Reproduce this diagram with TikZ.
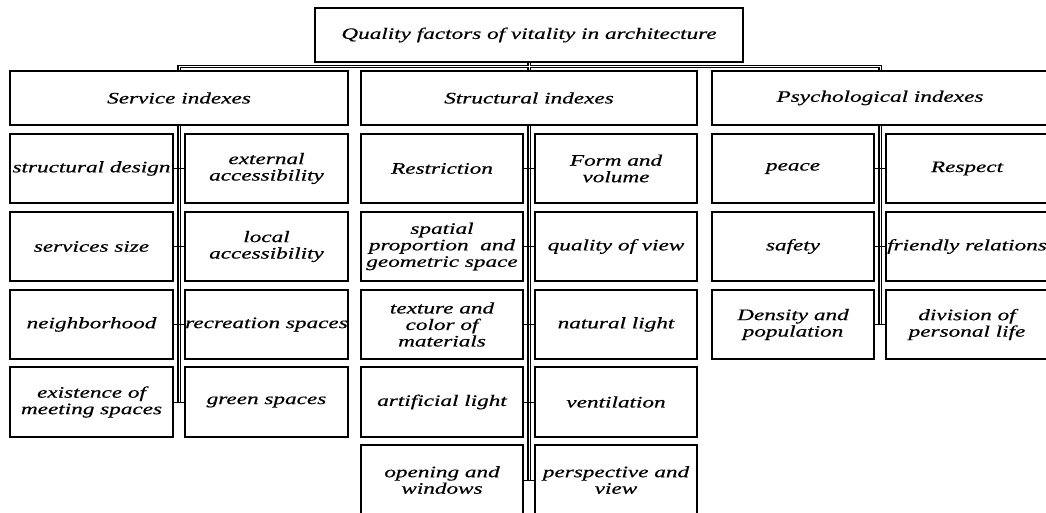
\documentclass[tikz,border=0pt]{standalone}
\usepackage{fontspec}
\newfontfamily\tnr[FakeStretch=1.45,FakeBold=0.5]{Liberation Serif}
\begin{document}
\begin{tikzpicture}[x=1pt,y=-1pt,
  cell/.style={draw, line width=1.2pt, align=center, inner sep=0pt,
    font=\tnr\itshape\fontsize{16}{16.5}\selectfont},
  outerline/.style={draw=black, line width=3.4pt},
  innerline/.style={draw=white, line width=0.8pt},
  branch/.style={draw, line width=1pt}]
\useasboundingbox (0,0) rectangle (1046,512);
\newcommand\cellbox[6]{\node[cell, minimum width={#4-#2}, minimum height={#5-#3}] (#1) at ({(#2+#4)/2},{(#3+#5)/2}) {#6};}
% top
\cellbox{top}{315}{8}{743}{62}{Quality factors of vitality in architecture}
% level 2
\cellbox{svc}{10}{71}{348}{125}{Service indexes}
\cellbox{str}{361}{71}{697}{125}{Structural indexes}
\cellbox{psy}{712}{71}{1048}{125}{Psychological indexes}
% service
\cellbox{a11}{10}{134}{173}{203}{structural design}
\cellbox{a12}{185}{134}{348}{203}{external\\accessibility}
\cellbox{a21}{10}{212}{173}{281}{services size}
\cellbox{a22}{185}{212}{348}{281}{local\\accessibility}
\cellbox{a31}{10}{290}{173}{359}{neighborhood}
\cellbox{a32}{185}{290}{348}{359}{recreation spaces}
\cellbox{a41}{10}{367}{173}{437}{existence of\\meeting spaces}
\cellbox{a42}{185}{367}{348}{437}{green spaces}
% structural
\cellbox{b11}{361}{134}{523}{203}{Restriction}
\cellbox{b12}{535}{134}{697}{203}{Form and\\volume}
\cellbox{b21}{361}{212}{523}{281}{spatial\\proportion~ and\\geometric space}
\cellbox{b22}{535}{212}{697}{281}{quality of view}
\cellbox{b31}{361}{290}{523}{359}{texture and\\color of\\materials}
\cellbox{b32}{535}{290}{697}{359}{natural light}
\cellbox{b41}{361}{367}{523}{437}{artificial light}
\cellbox{b42}{535}{367}{697}{437}{ventilation}
\cellbox{b51}{361}{445}{523}{515}{opening and\\windows}
\cellbox{b52}{535}{445}{697}{515}{perspective and\\view}
% psychological
\cellbox{c11}{712}{134}{874}{203}{peace}
\cellbox{c12}{886}{134}{1048}{203}{Respect}
\cellbox{c21}{712}{212}{874}{281}{safety}
\cellbox{c22}{886}{212}{1048}{281}{friendly relations}
\cellbox{c31}{712}{290}{874}{359}{Density and\\population}
\cellbox{c32}{886}{290}{1048}{359}{division of\\personal life}
% connectors (double lines: black then white core)
\coordinate (bus) at (0,66.5);
\foreach \s in {outerline,innerline}{
  \draw[\s] (top.south) -- (str.north);
  \draw[\s] (svc.north) -- (svc.north |- bus) -- (psy.north |- bus) -- (psy.north);
  \draw[\s] (svc.south) -- (svc.south |- a41.east);
  \draw[\s] (str.south) -- (str.south |- b51.east);
  \draw[\s] (psy.south) -- (psy.south |- c31.east);
}
% branches
\foreach \l/\r in {a11/a12,a21/a22,a31/a32,a41/a42,b11/b12,b21/b22,b31/b32,b41/b42,b51/b52,c11/c12,c21/c22,c31/c32}
  \draw[branch] (\l.east) -- (\r.west);
\end{tikzpicture}
\end{document}
